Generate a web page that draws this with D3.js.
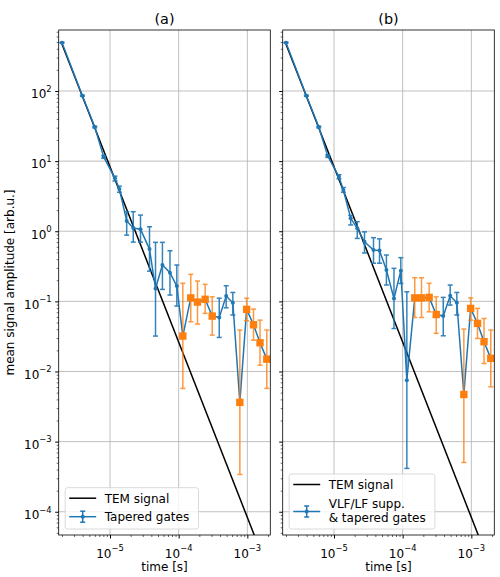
<!DOCTYPE html>
<html>
<head>
<meta charset="utf-8">
<script src="https://cdn.jsdelivr.net/npm/d3@7"></script>
<style>
body { margin: 0; background: #fff; }
text { font-family: "DejaVu Sans", sans-serif; fill: #000; }
</style>
</head>
<body>
<svg id="chart" width="500" height="577"></svg>
<script>
// gate centre times [s], shared by both panels
var times = [2.0e-6, 3.96e-6, 6.0e-6, 8.1e-6, 1.18e-5, 1.37e-5, 1.75e-5, 2.18e-5, 2.78e-5,
    3.76e-5, 4.6e-5, 5.8e-5, 7.47e-5, 9.4e-5, 1.15e-4, 1.5e-4, 1.88e-4, 2.43e-4, 3.08e-4,
    3.9e-4, 4.92e-4, 6.15e-4, 7.78e-4, 9.77e-4, 1.23e-3, 1.53e-3, 1.92e-3];

// (a) tapered gates
var taperedVal = [489, 85.7, 30.6, 11.5, 5.69, 4.0, 1.40, 1.11, 1.07, 0.557, 0.153, 0.33, 0.256, 0.165,
    0.032, 0.112, 0.0977, 0.107, 0.0617, 0.059, 0.119, 0.0955, 0.00363, 0.0769, 0.0464, 0.0257, 0.0150];
var taperedLo = [482, 84.2, 29.8, 11.0, 5.2, 3.6, 0.88, 0.70, 0.70, 0.27, 0.032, 0.148, 0.123, 0.0857,
    0.00574, 0.0512, 0.0474, 0.0674, 0.033, 0.0306, 0.081, 0.0638, 0.00034, 0.0529, 0.028, 0.0123, 0.00574];
var taperedHi = [496, 87.2, 31.4, 12.0, 6.1, 4.4, 1.90, 1.90, 1.70, 1.16, 0.695, 0.695, 0.527, 0.33,
    0.181, 0.243, 0.195, 0.175, 0.116, 0.111, 0.167, 0.134, 0.039, 0.111, 0.0776, 0.054, 0.039];
var taperedFlag = [14, 15, 16, 17, 18, 22, 23, 24, 25, 26];

// (b) VLF/LF suppression & tapered gates
var suppVal = [489, 85.7, 30.6, 11.8, 6.0, 3.87, 1.53, 1.10, 0.708, 0.54, 0.53, 0.28, 0.110, 0.274,
    0.0075, 0.112, 0.112, 0.114, 0.065, 0.0617, 0.120, 0.0955, 0.0047, 0.0794, 0.0485, 0.0266, 0.0154];
var suppLo = [482, 84.2, 29.8, 11.3, 5.6, 3.6, 1.23, 0.79, 0.49, 0.35, 0.35, 0.171, 0.041, 0.18,
    0.000415, 0.059, 0.059, 0.071, 0.035, 0.0323, 0.0885, 0.0638, 0.000505, 0.054, 0.0296, 0.013, 0.00605];
var suppHi = [496, 87.2, 31.4, 12.3, 6.4, 4.2, 1.68, 1.37, 0.98, 0.81, 0.78, 0.458, 0.296, 0.42,
    0.137, 0.217, 0.217, 0.181, 0.116, 0.114, 0.171, 0.134, 0.0403, 0.112, 0.0794, 0.057, 0.039];
var suppFlag = [15, 16, 17, 18, 22, 23, 24, 25, 26];

// TEM signal (straight line on log-log)
var temTime = [2.0e-6, 2.0e-3];
var temValue = [464, 1.47e-5];

var xMajor = [1e-5, 1e-4, 1e-3];
var xMajorExp = ["\u22125", "\u22124", "\u22123"];
var yMajor = [1e-4, 1e-3, 1e-2, 1e-1, 1e0, 1e1, 1e2];
var yMajorExp = ["\u22124", "\u22123", "\u22122", "\u22121", "0", "1", "2"];

var panels = [
    {title: "(a)", left: 58.7, val: taperedVal, lo: taperedLo, hi: taperedHi, flag: taperedFlag,
     legend: ["Tapered gates"], showY: true},
    {title: "(b)", left: 282.7, val: suppVal, lo: suppLo, hi: suppHi, flag: suppFlag,
     legend: ["VLF/LF supp.", "& tapered gates"], showY: false}
];

var blue = "#1f77b4", orange = "#ff7f0e";
var plotTop = 30, plotBottom = 535, pw = 211.6;

var svg = d3.select("#chart");

function minorTicks(domain) {
    var out = [];
    for (var d = -7; d <= 3; d++) {
        for (var k = 2; k <= 9; k++) {
            var v = k * Math.pow(10, d);
            if (v >= domain[0] && v <= domain[1]) out.push(v);
        }
    }
    return out;
}

panels.forEach(function (p, pi) {
    var x = d3.scaleLog().domain([1.79e-6, 2.16e-3]).range([p.left, p.left + pw]);
    var y = d3.scaleLog().domain([4.66e-5, 741]).range([plotBottom, plotTop]);

    var g = svg.append("g");

    g.append("clipPath").attr("id", "clip" + pi)
        .append("rect").attr("x", p.left).attr("y", plotTop).attr("width", pw).attr("height", plotBottom - plotTop);

    // grid
    g.append("g").selectAll("line").data(xMajor).enter().append("line")
        .attr("x1", function (d) { return x(d); }).attr("x2", function (d) { return x(d); })
        .attr("y1", plotTop).attr("y2", plotBottom)
        .attr("stroke", "#b0b0b0").attr("stroke-width", 0.8);
    g.append("g").selectAll("line").data(yMajor).enter().append("line")
        .attr("y1", function (d) { return y(d); }).attr("y2", function (d) { return y(d); })
        .attr("x1", p.left).attr("x2", p.left + pw)
        .attr("stroke", "#b0b0b0").attr("stroke-width", 0.8);

    var plot = g.append("g").attr("clip-path", "url(#clip" + pi + ")");

    // TEM signal
    plot.append("path")
        .datum(d3.zip(temTime, temValue))
        .attr("d", d3.line().x(function (d) { return x(d[0]); }).y(function (d) { return y(d[1]); }))
        .attr("fill", "none").attr("stroke", "#000").attr("stroke-width", 1.5);

    var pts = times.map(function (t, i) {
        return {t: t, v: p.val[i], lo: p.lo[i], hi: p.hi[i], flag: p.flag.indexOf(i) >= 0};
    });

    // blue series line
    plot.append("path")
        .datum(pts)
        .attr("d", d3.line().x(function (d) { return x(d.t); }).y(function (d) { return y(d.v); }))
        .attr("fill", "none").attr("stroke", blue).attr("stroke-width", 1.5);

    [[pts.filter(function (d) { return !d.flag; }), blue, 0.9],
     [pts.filter(function (d) { return d.flag; }), orange, 0.8]].forEach(function (s) {
        var eg = plot.append("g").attr("stroke", s[1]).attr("stroke-width", 1.5).attr("opacity", s[2]);
        eg.selectAll(".bar").data(s[0]).enter().append("line")
            .attr("x1", function (d) { return x(d.t); }).attr("x2", function (d) { return x(d.t); })
            .attr("y1", function (d) { return y(d.lo); }).attr("y2", function (d) { return y(d.hi); });
        eg.selectAll(".caplo").data(s[0]).enter().append("line")
            .attr("x1", function (d) { return x(d.t) - 2.5; }).attr("x2", function (d) { return x(d.t) + 2.5; })
            .attr("y1", function (d) { return y(d.lo); }).attr("y2", function (d) { return y(d.lo); });
        eg.selectAll(".caphi").data(s[0]).enter().append("line")
            .attr("x1", function (d) { return x(d.t) - 2.5; }).attr("x2", function (d) { return x(d.t) + 2.5; })
            .attr("y1", function (d) { return y(d.hi); }).attr("y2", function (d) { return y(d.hi); });
    });

    plot.append("g").selectAll("circle").data(pts.filter(function (d) { return !d.flag; })).enter()
        .append("circle")
        .attr("cx", function (d) { return x(d.t); }).attr("cy", function (d) { return y(d.v); })
        .attr("r", 2).attr("fill", blue);

    plot.append("g").selectAll("rect").data(pts.filter(function (d) { return d.flag; })).enter()
        .append("rect")
        .attr("x", function (d) { return x(d.t) - 3.7; }).attr("y", function (d) { return y(d.v) - 3.7; })
        .attr("width", 7.4).attr("height", 7.4).attr("fill", orange);

    // frame
    g.append("rect").attr("x", p.left).attr("y", plotTop).attr("width", pw).attr("height", plotBottom - plotTop)
        .attr("fill", "none").attr("stroke", "#000").attr("stroke-width", 0.8);

    // x axis ticks
    var xa = g.append("g").attr("transform", "translate(0," + plotBottom + ")");
    xa.call(d3.axisBottom(x).tickValues(xMajor).tickSize(3.5).tickFormat(""));
    xa.append("g").call(d3.axisBottom(x).tickValues(minorTicks(x.domain())).tickSize(2).tickFormat(""))
        .selectAll("line").attr("stroke-width", 0.6);
    xa.selectAll(".domain").remove();
    xa.selectAll(".tick line").attr("stroke", "#000");

    xMajor.forEach(function (v, i) {
        var t = g.append("text").attr("x", x(v)).attr("y", 557.6).attr("text-anchor", "middle")
            .attr("font-size", 12);
        t.append("tspan").text("10");
        t.append("tspan").attr("dy", -6.5).attr("font-size", 8.4).text(xMajorExp[i]);
    });

    g.append("text").attr("x", p.left + pw / 2).attr("y", 570.5).attr("text-anchor", "middle")
        .attr("font-size", 12).text("time [s]");

    // y axis ticks
    var ya = g.append("g").attr("transform", "translate(" + p.left + ",0)");
    ya.call(d3.axisLeft(y).tickValues(yMajor).tickSize(3.5).tickFormat(""));
    ya.append("g").call(d3.axisLeft(y).tickValues(minorTicks(y.domain())).tickSize(2).tickFormat(""))
        .selectAll("line").attr("stroke-width", 0.6);
    ya.selectAll(".domain").remove();
    ya.selectAll(".tick line").attr("stroke", "#000");

    if (p.showY) {
        yMajor.forEach(function (v, i) {
            var t = g.append("text").attr("x", p.left - 7).attr("y", y(v) + 7.3).attr("text-anchor", "end")
                .attr("font-size", 12);
            t.append("tspan").text("10");
            t.append("tspan").attr("dy", -6.5).attr("font-size", 8.4).text(yMajorExp[i]);
        });
        g.append("text").attr("transform", "translate(14," + ((plotTop + plotBottom) / 2) + ") rotate(-90)")
            .attr("text-anchor", "middle").attr("font-size", 12).text("mean signal amplitude [arb.u.]");
    }

    // title
    g.append("text").attr("x", p.left + pw / 2).attr("y", 24).attr("text-anchor", "middle")
        .attr("font-size", 14.4).text(p.title);

    // legend
    var two = p.legend.length > 1;
    var lx = p.left + 6.5, ly = two ? 474 : 487.7;
    var lw = two ? 145.7 : 133.3, lh = plotBottom - 6 - ly;
    var lg = g.append("g");
    lg.append("rect").attr("x", lx).attr("y", ly).attr("width", lw).attr("height", lh)
        .attr("rx", 2.5).attr("fill", "#fff").attr("fill-opacity", 0.8)
        .attr("stroke", "#d0d0d0").attr("stroke-width", 0.8);
    var r1 = ly + 10.5;
    lg.append("line").attr("x1", lx + 4).attr("x2", lx + 31).attr("y1", r1).attr("y2", r1)
        .attr("stroke", "#000").attr("stroke-width", 1.5);
    lg.append("text").attr("x", lx + 39.5).attr("y", r1 + 4.3).attr("font-size", 12).text("TEM signal");
    var r2 = two ? ly + 37.5 : ly + 29;
    lg.append("line").attr("x1", lx + 4).attr("x2", lx + 31).attr("y1", r2).attr("y2", r2)
        .attr("stroke", blue).attr("stroke-width", 1.5);
    lg.append("line").attr("x1", lx + 17.5).attr("x2", lx + 17.5).attr("y1", r2 - 5.5).attr("y2", r2 + 5.5)
        .attr("stroke", blue).attr("stroke-width", 1.5);
    [r2 - 5.5, r2 + 5.5].forEach(function (cy) {
        lg.append("line").attr("x1", lx + 15).attr("x2", lx + 20).attr("y1", cy).attr("y2", cy)
            .attr("stroke", blue).attr("stroke-width", 1.5);
    });
    lg.append("circle").attr("cx", lx + 17.5).attr("cy", r2).attr("r", 2).attr("fill", blue);
    p.legend.forEach(function (s, i) {
        var yy = two ? (i === 0 ? 508.3 : 521.6) : r2 + 4.3;
        lg.append("text").attr("x", lx + 39.5).attr("y", yy).attr("font-size", 12).text(s);
    });
});
</script>
</body>
</html>
